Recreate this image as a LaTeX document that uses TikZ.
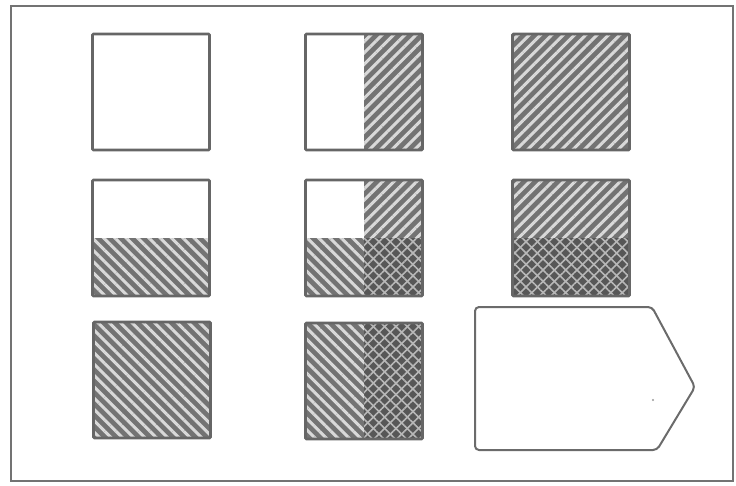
\documentclass[tikz,border=0pt]{standalone}
\usetikzlibrary{patterns.meta}
\begin{document}
\begin{tikzpicture}[x=1pt, y=-1pt,
  tile/.style={minimum width=117pt, minimum height=116pt, inner sep=0pt, outer sep=0pt},
  edge/.style={draw=black!60, line width=2.6pt, rounded corners=1pt},
  frame/.style={draw=black!55, line width=1.6pt},
  hatchA/.style={fill=black!55, postaction={pattern={Lines[angle=45, distance=8pt, line width=3pt]}, pattern color=white!85!black}},
  hatchB/.style={fill=black!55, postaction={pattern={Lines[angle=-45, distance=8pt, line width=3pt]}, pattern color=white!85!black}},
  hatchAB/.style={fill=black!66,
    postaction={pattern={Lines[angle=45, distance=8pt, line width=1.6pt]}, pattern color=white!72!black},
    postaction={pattern={Lines[angle=-45, distance=8pt, line width=1.6pt]}, pattern color=white!72!black}}
]
\useasboundingbox (0,0) rectangle (736,485);
% outer frame
\draw[frame] (11,6) rectangle (733,481);
% tiles: three rows, three columns (the last one is the tag)
\path node[tile] (t11) at (151,92) {}
      node[tile] (t12) at (364,92) {}
      node[tile] (t13) at (571,92) {}
      node[tile] (t21) at (151,238) {}
      node[tile] (t22) at (364,238) {}
      node[tile] (t23) at (571,238) {}
      node[tile] (t31) at (152,380) {}
      node[tile] (t32) at (364,381) {};
% fillings
\path[hatchA] (t12.north) rectangle (t12.south east);
\path[hatchA] (t13.north west) rectangle (t13.south east);
\path[hatchB] (t21.west) rectangle (t21.south east);
\path[hatchA] (t22.north) rectangle (t22.east);
\path[hatchB] (t22.west) rectangle (t22.south);
\path[hatchAB] (t22.center) rectangle (t22.south east);
\path[hatchA] (t23.north west) rectangle (t23.east);
\path[hatchAB] (t23.west) rectangle (t23.south east);
\path[hatchB] (t31.north west) rectangle (t31.south east);
\path[hatchB] (t32.north west) rectangle (t32.south);
\path[hatchAB] (t32.north) rectangle (t32.south east);
% outlines
\foreach \t in {t11,t12,t13,t21,t22,t23,t31,t32}
  \draw[edge] (\t.north west) rectangle (\t.south east);
% tag shape
\coordinate (tagnw) at (475,307);
\coordinate (tagsw) at (475,450);
\draw[edge, line width=2pt, draw=black!58, rounded corners=4pt]
  (tagnw) -- (652,307) -- (695,387) -- (657,450) -- (tagsw) -- cycle;
\fill[black!40] (653,400) circle (1.2pt);
\end{tikzpicture}
\end{document}
